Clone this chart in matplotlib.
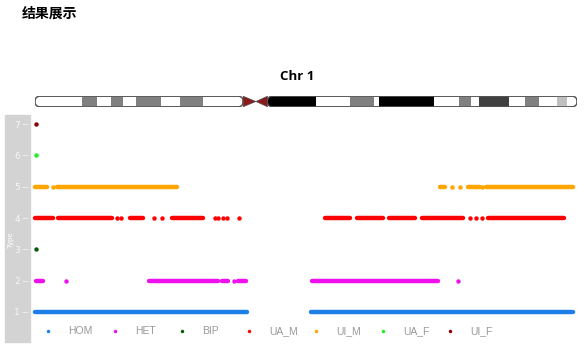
import matplotlib
matplotlib.use('Agg')
import matplotlib.pyplot as plt
from matplotlib.patches import Rectangle, FancyBboxPatch, Polygon

# chromosome 1 length (Mb) and cytoband boundaries
chr_len = 249.0
band_starts = [0, 21.6, 28.7, 34.9, 40.4, 46.4, 58.1, 66.6, 77.2,
               106.8, 129.1, 144.7, 155.7, 158.0, 183.3, 194.8, 200.5,
               204.0, 217.8, 225.1, 231.5, 239.8, 244.6]
band_ends = band_starts[1:9] + [95.6] + band_starts[10:] + [chr_len]
band_colors = ['white', '#808080', 'white', '#808080', 'white', '#808080', 'white', '#808080', 'white',
               'black', 'white', '#808080', 'white', 'black', 'white', '#808080', 'white',
               '#404040', 'white', '#808080', 'white', '#c0c0c0', 'white']
cen_start, cen_mid, cen_end = 95.6, 101.5, 106.8

# call types (y value) and colours
type_names = ['HOM', 'HET', 'BIP', 'UA_M', 'UI_M', 'UA_F', 'UI_F']
type_colors = ['#1f7fe8', '#ee11ee', '#0a5a0a', '#ff0000', '#ffa500', '#22ee22', '#8b0000']

# dense stretches of points (start, end) in Mb, and isolated points
hom_runs = [(0.2, 97.4), (126.8, 247.2)]
hom_dots = []
het_runs = [(0.5, 3.7), (52.4, 84.1), (85.9, 88.7), (93.3, 96.9), (127.3, 185.1)]
het_dots = [14.1, 91.4, 194.3]
bip_runs = []
bip_dots = [0.5]
uam_runs = [(0.2, 8.3), (10.6, 35.4), (43.6, 49.6), (62.9, 77.2), (133.2, 144.7),
            (147.9, 159.9), (162.6, 174.6), (177.8, 196.6), (208.1, 243.0)]
uam_dots = [37.7, 39.5, 54.7, 58.3, 82.7, 84.1, 86.4, 88.2, 93.7, 199.8, 202.6, 205.4]
uim_runs = [(0.2, 5.5), (10.0, 65.1), (186.1, 188.5), (198.9, 204.4), (207.2, 247.2)]
uim_dots = [8.1, 191.6, 195.2, 205.4]
uaf_runs = []
uaf_dots = [0.5]
uif_runs = []
uif_dots = [0.5]

all_runs = [hom_runs, het_runs, bip_runs, uam_runs, uim_runs, uaf_runs, uif_runs]
all_dots = [hom_dots, het_dots, bip_dots, uam_dots, uim_dots, uaf_dots, uif_dots]

W, H = 584, 348


def px_rect(x, y, w, h):
    return [x / W, 1 - (y + h) / H, w / W, h / H]


fig = plt.figure(figsize=(W / 100, H / 100), dpi=100)

fig.text(22 / W, 1 - 14 / H, '结果展示', fontsize=10, fontweight='bold',
         family=['Noto Sans CJK SC', 'DejaVu Sans'], va='center', ha='left')
fig.text(297 / W, 1 - 76 / H, 'Chr 1', fontsize=9.5, fontweight='bold',
         family=['Open Sans', 'DejaVu Sans'], va='center', ha='center')

# gray strip behind the y axis
fig.patches.append(Rectangle((5 / W, 1 - 342 / H), 25 / W, 227 / H,
                             transform=fig.transFigure, color='#d3d3d3', zorder=0))
fig.text(11 / W, 1 - 240 / H, 'Type', rotation=90, color='white', fontsize=5.5,
         va='center', ha='center', family='Liberation Sans', zorder=5)

# ideogram
axc = fig.add_axes(px_rect(35, 96, 542, 11))
axc.set_xlim(0, chr_len)
axc.set_ylim(0, 1)
axc.axis('off')
asp = (11 / 1) / (542 / chr_len)
for arm_s, arm_e in [(0, cen_start), (cen_end, chr_len)]:
    arm = FancyBboxPatch((arm_s, 0.02), arm_e - arm_s, 0.96,
                         boxstyle='round,pad=0,rounding_size=2.4', mutation_aspect=1 / asp,
                         facecolor='white', edgecolor='#555555', lw=0.8, zorder=1)
    axc.add_patch(arm)
    for s, e, c in zip(band_starts, band_ends, band_colors):
        if s >= arm_s and e <= arm_e and c != 'white':
            r = Rectangle((s, 0), e - s, 1, facecolor=c, edgecolor='none', zorder=2)
            axc.add_patch(r)
            r.set_clip_path(arm)
    edge = FancyBboxPatch((arm_s, 0.02), arm_e - arm_s, 0.96,
                          boxstyle='round,pad=0,rounding_size=2.4', mutation_aspect=1 / asp,
                          facecolor='none', edgecolor='#555555', lw=0.8, zorder=3)
    axc.add_patch(edge)
axc.add_patch(Polygon([(cen_start, 0.02), (cen_start, 0.98), (cen_mid, 0.5)],
                      closed=True, facecolor='#8b1a1a', edgecolor='#555555', lw=0.5, zorder=3))
axc.add_patch(Polygon([(cen_end, 0.02), (cen_end, 0.98), (cen_mid, 0.5)],
                      closed=True, facecolor='#8b1a1a', edgecolor='#555555', lw=0.5, zorder=3))

# main scatter panel
ax = fig.add_axes(px_rect(35, 115, 542, 207))
ax.set_zorder(3)
ax.set_xlim(0, chr_len)
ax.set_ylim(0.68, 7.29)
for i, (runs, dots, col) in enumerate(zip(all_runs, all_dots, type_colors)):
    yv = i + 1
    for s, e in runs:
        ax.plot([s, e], [yv, yv], color=col, lw=3.2, solid_capstyle='round', clip_on=False)
    if dots:
        ax.plot(dots, [yv] * len(dots), 'o', color=col, ms=3.2, mew=0, clip_on=False)

for sp in ax.spines.values():
    sp.set_visible(False)
ax.spines['left'].set_position(('outward', 5))
ax.set_xticks([])
ax.set_yticks(range(1, 8))
ax.tick_params(axis='y', length=4, width=0.6, color='#eeeeee', labelcolor='#f7f7f7',
               labelsize=6.5, pad=2)
ax.set_facecolor('none')

# legend row
for i, (name, col) in enumerate(zip(type_names, type_colors)):
    mx = 48 + i * 67
    fig.add_artist(plt.Line2D([mx / W], [1 - 331 / H], marker='o', ms=2.5, mew=0,
                              color=col, transform=fig.transFigure))
    fig.text((mx + 20) / W, 1 - 331 / H, name, color='#999999', fontsize=7.5,
             family='Liberation Sans', va='center', ha='left')

fig.savefig('out.png', dpi=100)
